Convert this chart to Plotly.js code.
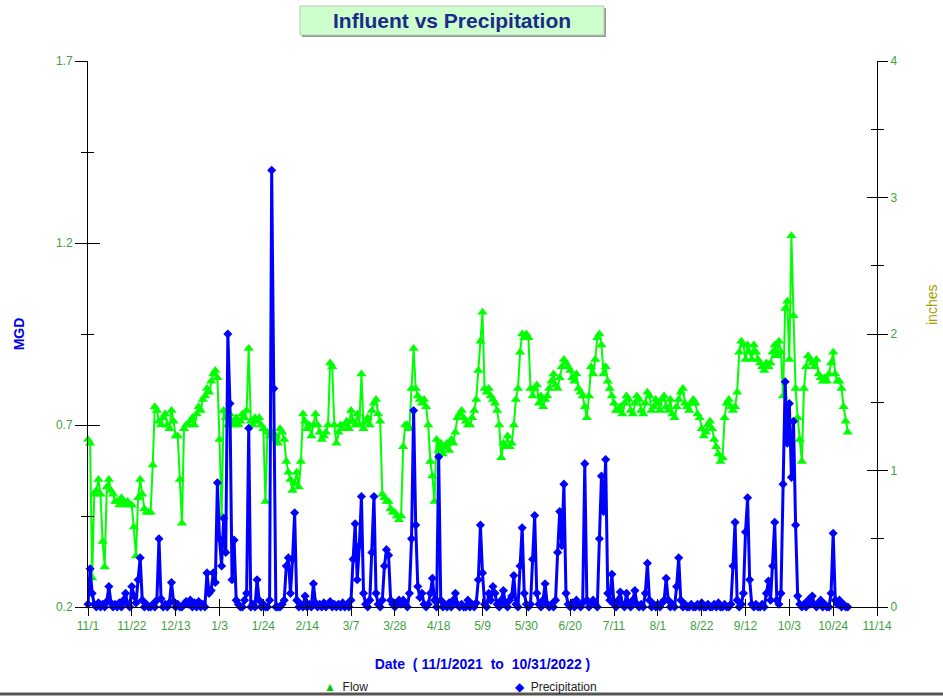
<!DOCTYPE html>
<html>
<head>
<meta charset="utf-8">
<script src="https://cdn.plot.ly/plotly-3.0.1.min.js"></script>
<style>html,body{margin:0;padding:0;background:#fff;}#chart{width:943px;height:698px;}</style>
</head>
<body>
<div id="chart"></div>
<script>
// ---- Data ----
var startDate = '2021-11-01';
var tickDates = ['2021-11-01','2021-11-22','2021-12-13','2022-01-03','2022-01-24','2022-02-14','2022-03-07','2022-03-28','2022-04-18','2022-05-09','2022-05-30','2022-06-20','2022-07-11','2022-08-01','2022-08-22','2022-09-12','2022-10-03','2022-10-24','2022-11-14'];
var tickLabels = ['11/1','11/22','12/13','1/3','1/24','2/14','3/7','3/28','4/18','5/9','5/30','6/20','7/11','8/1','8/22','9/12','10/3','10/24','11/14'];

// Flow (MGD), daily
var flowNov = [0.66,0.65,0.28,0.51,0.52,0.55,0.51,0.38,0.31,0.53,0.55,0.52,0.51,0.49,0.49,0.48,0.50,0.49,0.48,0.49,0.48,0.48,0.42,0.34,0.50,0.55,0.51,0.47,0.46,0.46];
var flowDec = [0.46,0.59,0.75,0.74,0.71,0.70,0.72,0.73,0.70,0.69,0.74,0.71,0.67,0.67,0.55,0.43,0.69,0.70,0.70,0.71,0.72,0.70,0.73,0.75,0.74,0.77,0.78,0.80,0.79,0.82,0.84];
var flowJan = [0.85,0.83,0.66,0.45,0.74,0.72,0.70,0.73,0.71,0.70,0.72,0.70,0.71,0.73,0.72,0.74,0.91,0.71,0.70,0.72,0.71,0.72,0.70,0.69,0.49,0.68,0.67,0.68,0.66,0.67,0.65];
var flowFeb = [0.69,0.68,0.66,0.60,0.57,0.55,0.52,0.54,0.57,0.53,0.60,0.73,0.71,0.69,0.70,0.67,0.70,0.73,0.70,0.68,0.66,0.67,0.68,0.70,0.87,0.86,0.70,0.65];
var flowMar = [0.68,0.70,0.69,0.70,0.71,0.69,0.74,0.71,0.70,0.73,0.70,0.84,0.69,0.71,0.72,0.70,0.74,0.76,0.77,0.73,0.71,0.51,0.50,0.49,0.49,0.47,0.46,0.46,0.45,0.44,0.45];
var flowApr = [0.64,0.70,0.70,0.69,0.80,0.91,0.80,0.78,0.77,0.76,0.77,0.75,0.70,0.60,0.56,0.49,0.66,0.63,0.65,0.62,0.64,0.65,0.63,0.66,0.65,0.68,0.72,0.73,0.74,0.72];
var flowMay = [0.71,0.70,0.70,0.72,0.74,0.77,0.85,0.93,1.01,0.80,0.79,0.80,0.78,0.77,0.76,0.74,0.70,0.61,0.65,0.64,0.67,0.64,0.65,0.70,0.77,0.80,0.90,0.95,0.94,0.95,0.94];
var flowJun = [0.80,0.78,0.80,0.81,0.76,0.78,0.75,0.77,0.78,0.80,0.82,0.84,0.81,0.80,0.83,0.86,0.88,0.87,0.86,0.85,0.83,0.82,0.84,0.80,0.79,0.78,0.75,0.72,0.78,0.86];
var flowJul = [0.84,0.88,0.94,0.95,0.92,0.84,0.86,0.82,0.80,0.78,0.76,0.74,0.74,0.75,0.73,0.76,0.78,0.77,0.74,0.73,0.76,0.78,0.77,0.74,0.73,0.76,0.79,0.78,0.74,0.75,0.77];
var flowAug = [0.76,0.74,0.77,0.78,0.75,0.74,0.77,0.73,0.72,0.75,0.77,0.79,0.80,0.76,0.75,0.74,0.76,0.77,0.76,0.73,0.72,0.69,0.67,0.68,0.70,0.71,0.69,0.66,0.64,0.62,0.60];
var flowSep = [0.61,0.72,0.76,0.77,0.75,0.74,0.75,0.79,0.90,0.93,0.92,0.88,0.92,0.90,0.88,0.92,0.90,0.88,0.87,0.86,0.85,0.87,0.86,0.87,0.90,0.92,0.89,0.93,0.90,0.78];
var flowOct = [1.02,1.04,0.88,1.22,1.00,0.80,0.72,0.66,0.60,0.80,0.86,0.89,0.88,0.87,0.86,0.88,0.84,0.83,0.82,0.83,0.82,0.84,0.87,0.90,0.84,0.82,0.82,0.80,0.75,0.71,0.68];

// Precipitation (inches), daily
var precipNov = [0.02,0.28,0.10,0.02,0,0.03,0,0.02,0,0.04,0.15,0.03,0,0.02,0,0.03,0,0.05,0.10,0.02,0,0.15,0.08,0.03,0.20,0.36,0.05,0,0.02,0];
var precipDec = [0,0.02,0,0.05,0.50,0.06,0,0.02,0,0.03,0.18,0.04,0,0.02,0,0,0.02,0.04,0.02,0.05,0,0.03,0,0.04,0,0.02,0,0.25,0.10,0.12,0.25];
var precipJan = [0.18,0.91,0.50,0.30,0.65,0.40,2.00,1.49,0.20,0.49,0.05,0.02,0,0,0.05,0.10,1.31,0,0.02,0,0.20,0.05,0,0.02,0,0,0.05,3.20,1.60,0,0];
var precipFeb = [0,0.02,0.05,0.30,0.36,0.10,0.35,0.69,0.05,0,0.02,0,0.08,0,0.02,0,0.17,0.03,0,0.02,0,0.03,0,0.02,0.04,0,0.02,0];
var precipMar = [0.02,0,0.03,0,0.02,0,0.05,0.35,0.61,0.20,0.45,0.81,0.10,0.02,0,0.05,0.40,0.81,0.10,0.02,0,0.05,0.30,0.42,0.38,0.05,0.02,0,0.03,0.05,0.02];
var precipApr = [0.05,0.02,0,0.10,0.50,1.44,0.60,0.15,0.07,0.10,0.02,0,0.02,0.10,0.21,0.05,0,1.10,0.05,0,0.02,0,0.03,0,0.05,0.10,0.02,0,0.02,0];
var precipMay = [0,0.05,0,0.02,0,0.03,0.20,0.60,0.25,0.02,0,0.10,0.05,0.15,0.10,0.02,0,0.05,0.12,0.02,0,0.05,0.08,0.23,0.02,0,0.30,0.58,0.10,0.02,0];
var precipJun = [0.02,0.35,0.67,0.10,0.02,0,0.05,0.17,0.02,0,0.02,0,0.05,0.40,0.70,0.45,0.90,0.10,0.02,0,0.03,0,0.05,0.02,0,0.03,1.05,0.05,0,0.03];
var precipJul = [0.05,0.02,0,0.50,0.96,0.70,1.08,0.10,0.05,0.24,0.02,0,0.05,0.11,0.02,0,0.10,0.02,0,0.05,0.12,0.02,0,0.02,0,0.10,0.32,0.05,0,0.02,0];
var precipAug = [0.02,0,0.03,0.05,0.21,0.05,0,0.02,0,0.15,0.36,0.05,0,0.02,0,0,0.02,0,0,0.02,0,0.03,0,0,0.02,0,0,0.02,0,0.03,0];
var precipSep = [0,0.02,0,0,0.02,0.30,0.62,0.05,0,0.02,0.10,0.55,0.80,0.20,0.02,0,0.02,0,0,0.02,0,0.10,0.19,0.05,0.30,0.62,0.05,0.02,0.10,0.90];
var precipOct = [1.65,1.20,1.49,0.95,1.36,0.60,0.08,0.02,0,0.02,0,0.05,0.02,0.08,0.02,0,0.03,0.05,0,0.02,0,0,0.10,0.54,0.05,0.02,0.05,0,0.02,0,0];

// ---- Build series ----
var flow = [].concat(flowNov, flowDec, flowJan, flowFeb, flowMar, flowApr, flowMay, flowJun, flowJul, flowAug, flowSep, flowOct);
var precip = [].concat(precipNov, precipDec, precipJan, precipFeb, precipMar, precipApr, precipMay, precipJun, precipJul, precipAug, precipSep, precipOct);
var dates = [];
(function(){
  var d = new Date(startDate + 'T00:00:00Z');
  for (var i = 0; i < flow.length; i++) {
    dates.push(d.toISOString().slice(0,10));
    d.setUTCDate(d.getUTCDate() + 1);
  }
})();

var FONT = 'Liberation Sans, Arial, sans-serif';
var TICKGREEN = '#3f9f3f';
var xRange = ['2021-11-01','2022-11-14'];

var traces = [
  {x: dates, y: flow, name: 'Flow', type: 'scatter', mode: 'lines+markers', xaxis: 'x', yaxis: 'y',
   line: {color: '#00ff00', width: 2}, marker: {symbol: 'triangle-up', size: 9, color: '#00ff00'}, cliponaxis: false},
  {x: dates, y: precip, name: 'Precipitation', type: 'scatter', mode: 'lines+markers', xaxis: 'x', yaxis: 'y2',
   line: {color: '#0000ff', width: 3}, marker: {symbol: 'diamond', size: 7, color: '#0000ff'}, cliponaxis: false},
  // invisible helpers so the inner-tick overlay axes get drawn
  {x: [null], y: [null], xaxis: 'x2', yaxis: 'y', mode: 'markers', hoverinfo: 'skip', showlegend: false},
  {x: [null], y: [null], xaxis: 'x', yaxis: 'y3', mode: 'markers', hoverinfo: 'skip', showlegend: false},
  {x: [null], y: [null], xaxis: 'x', yaxis: 'y4', mode: 'markers', hoverinfo: 'skip', showlegend: false}
];

function px2paperX(px){ return (px - 88) / 789; }
function px2paperY(py){ return (607 - py) / 546; }

var layout = {
  width: 943, height: 698,
  margin: {l: 88, r: 66, t: 61, b: 91},
  paper_bgcolor: '#ffffff', plot_bgcolor: '#ffffff',
  showlegend: false,
  font: {family: FONT, size: 12, color: '#000'},
  xaxis: {
    type: 'date', range: xRange, tickmode: 'array', tickvals: tickDates, ticktext: tickLabels,
    ticks: 'outside', ticklen: 8, tickcolor: '#000', tickwidth: 1,
    showline: true, linecolor: '#000', linewidth: 1, showgrid: false, zeroline: false,
    tickfont: {family: FONT, size: 12, color: TICKGREEN},
    title: {text: 'Date  ( 11/1/2021  to  10/31/2022 )', font: {family: FONT, size: 14, color: '#0000ee', weight: 'bold'}, standoff: 26}
  },
  xaxis2: {
    type: 'date', range: xRange, overlaying: 'x', anchor: 'y', side: 'bottom',
    tickmode: 'array', tickvals: tickDates, ticks: 'inside', ticklen: 8, tickcolor: '#000',
    showticklabels: false, showline: false, showgrid: false, zeroline: false
  },
  yaxis: {
    range: [0.2, 1.7], tickmode: 'array', tickvals: [0.2, 0.7, 1.2, 1.7], ticktext: ['0.2','0.7','1.2','1.7'],
    ticks: 'outside', ticklen: 12, tickcolor: '#000', tickwidth: 1,
    minor: {tickmode: 'array', tickvals: [0.45, 0.95, 1.45], ticks: 'outside', ticklen: 6, tickcolor: '#000', showgrid: false},
    showline: true, linecolor: '#000', linewidth: 1, showgrid: false, zeroline: false,
    tickfont: {family: FONT, size: 12, color: TICKGREEN},
    title: {text: 'MGD', font: {family: FONT, size: 14, color: '#0000ee', weight: 'bold'}, standoff: 28}
  },
  yaxis2: {
    range: [0, 4], overlaying: 'y', side: 'right', anchor: 'x',
    tickmode: 'array', tickvals: [0, 1, 2, 3, 4], ticktext: ['0','1','2','3','4'],
    ticks: 'outside', ticklen: 10, tickcolor: '#000', tickwidth: 1,
    minor: {tickmode: 'array', tickvals: [0.5, 1.5, 2.5, 3.5], ticks: 'outside', ticklen: 6, tickcolor: '#000', showgrid: false},
    showline: true, linecolor: '#000', linewidth: 1, showgrid: false, zeroline: false,
    tickfont: {family: FONT, size: 12, color: TICKGREEN}
  },
  yaxis3: {
    range: [0.2, 1.7], overlaying: 'y', side: 'left', anchor: 'x',
    tickmode: 'array', tickvals: [0.2, 0.7, 1.2, 1.7], ticks: 'inside', ticklen: 12, tickcolor: '#000',
    minor: {tickmode: 'array', tickvals: [0.45, 0.95, 1.45], ticks: 'inside', ticklen: 6, tickcolor: '#000', showgrid: false},
    showticklabels: false, showline: false, showgrid: false, zeroline: false
  },
  yaxis4: {
    range: [0, 4], overlaying: 'y', side: 'right', anchor: 'x',
    tickmode: 'array', tickvals: [0, 1, 2, 3, 4], ticks: 'inside', ticklen: 10, tickcolor: '#000',
    minor: {tickmode: 'array', tickvals: [0.5, 1.5, 2.5, 3.5], ticks: 'inside', ticklen: 6, tickcolor: '#000', showgrid: false},
    showticklabels: false, showline: false, showgrid: false, zeroline: false
  },
  shapes: [
    {type: 'rect', xref: 'paper', yref: 'paper', x0: px2paperX(302), x1: px2paperX(606), y0: px2paperY(37), y1: px2paperY(8),
     fillcolor: '#9a9a9a', line: {width: 0}, layer: 'above'},
    {type: 'rect', xref: 'paper', yref: 'paper', x0: px2paperX(300), x1: px2paperX(604), y0: px2paperY(35), y1: px2paperY(6),
     fillcolor: '#ccffcc', line: {color: '#b8c8b8', width: 1}, layer: 'above'},
    {type: 'line', xref: 'paper', yref: 'paper', x0: px2paperX(0), x1: px2paperX(943), y0: px2paperY(694), y1: px2paperY(694),
     line: {color: '#555555', width: 3}}
  ],
  annotations: [
    {xref: 'paper', yref: 'paper', x: px2paperX(452), y: px2paperY(20), xanchor: 'center', yanchor: 'middle', showarrow: false,
     text: 'Influent vs Precipitation', font: {family: FONT, size: 21, color: '#1c2a8a', weight: 'bold'}},
    {xref: 'paper', yref: 'paper', x: px2paperX(932), y: px2paperY(305), xanchor: 'center', yanchor: 'middle', showarrow: false,
     textangle: -90, text: 'inches', font: {family: FONT, size: 14, color: '#a0a000'}},
    {xref: 'paper', yref: 'paper', x: px2paperX(322), y: px2paperY(687), xanchor: 'left', yanchor: 'middle', showarrow: false,
     text: '<span style="color:#00cc00">▲</span>  Flow', font: {family: FONT, size: 12, color: '#222'}},
    {xref: 'paper', yref: 'paper', x: px2paperX(513), y: px2paperY(687), xanchor: 'left', yanchor: 'middle', showarrow: false,
     text: '<span style="color:#0000ff">◆</span>  Precipitation', font: {family: FONT, size: 12, color: '#222'}}
  ]
};

Plotly.newPlot('chart', traces, layout, {displayModeBar: false, staticPlot: true});
</script>
</body>
</html>
